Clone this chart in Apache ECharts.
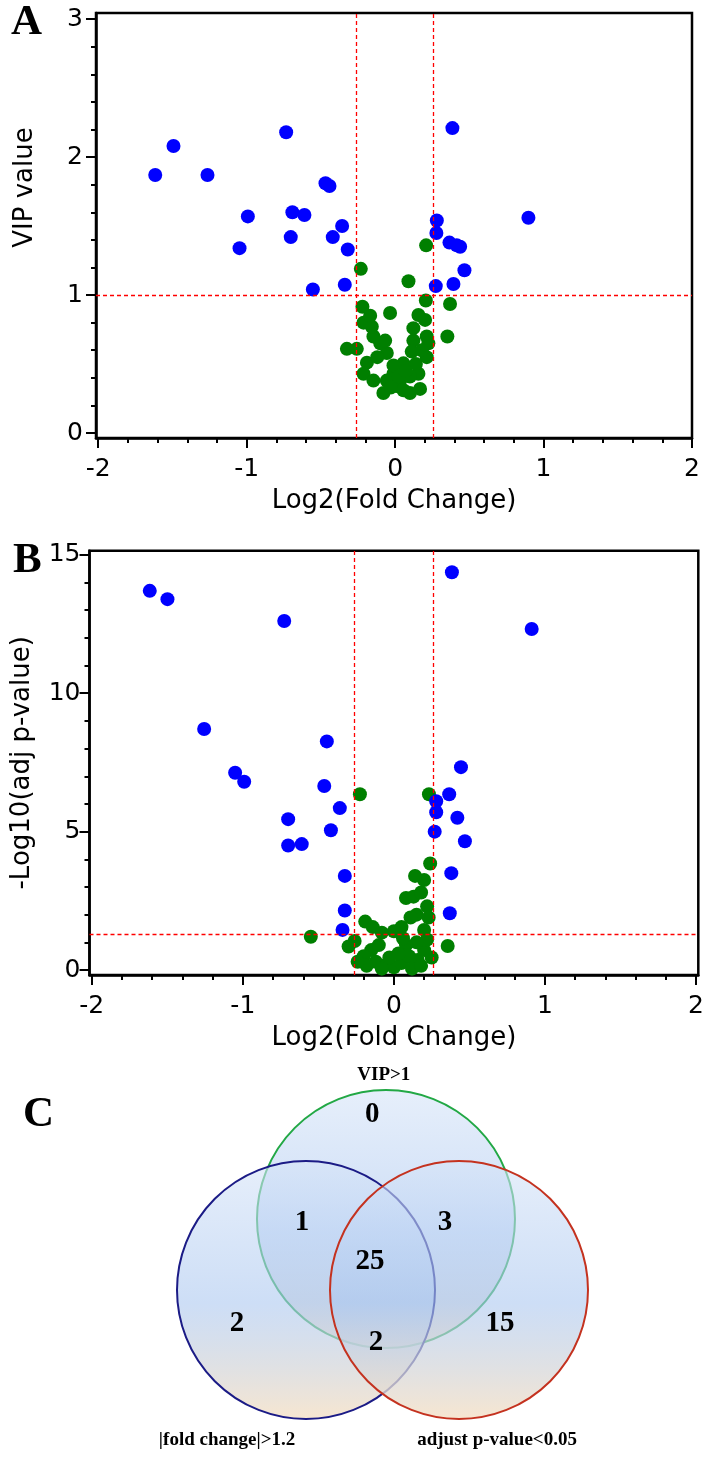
<!DOCTYPE html>
<html><head><meta charset="utf-8">
<script src="https://cdn.jsdelivr.net/npm/echarts@6/dist/echarts.min.js"></script>
<style>html,body{margin:0;padding:0;background:#fff}#c{width:708px;height:1480px}</style>
</head><body><div id="c"></div>
<script>
// ---------------- DATA ----------------
const aBlue = [[-1.616,1.87],[-1.493,2.08],[-1.264,1.87],[-1.048,1.34],[-0.992,1.57],[-0.734,2.18],[-0.703,1.42],[-0.692,1.60],[-0.611,1.58],[-0.554,1.04],[-0.469,1.81],[-0.442,1.79],[-0.420,1.42],[-0.357,1.50],[-0.339,1.075],[-0.319,1.33],[0.274,1.065],[0.278,1.45],[0.281,1.54],[0.366,1.38],[0.386,2.21],[0.393,1.08],[0.415,1.36],[0.438,1.35],[0.467,1.18],[0.898,1.56]];
const aGreen = [[-0.231,1.19],[0.09,1.10],[0.209,1.36],[0.207,0.96],[0.37,0.935],[0.352,0.70],[-0.22,0.915],[-0.034,0.87],[-0.325,0.61],[-0.258,0.61],[0.157,0.855],[0.202,0.82],[0.123,0.76],[0.213,0.70],[0.224,0.65],[0.123,0.67],[0.112,0.59],[0.213,0.55],[0.157,0.43],[0.168,0.32],[0.10,0.29],[-0.079,0.29],[0.034,0.38],[-0.011,0.43],[0.056,0.505],[-0.056,0.58],[-0.10,0.65],[-0.067,0.67],[-0.146,0.70],[-0.157,0.77],[-0.213,0.80],[-0.168,0.85],[-0.19,0.51],[-0.213,0.43],[-0.146,0.38],[-0.056,0.38],[0.011,0.34],[0.056,0.31],[-0.011,0.49],[0.10,0.41],[0.023,0.41],[0.18,0.60],[0.14,0.50],[-0.12,0.55],[0.07,0.45],[-0.03,0.33]];
const bBlue = [[-1.616,13.70],[-1.499,13.40],[-1.256,8.71],[-1.051,7.13],[-0.991,6.80],[-0.726,12.61],[-0.70,5.45],[-0.70,4.50],[-0.61,4.55],[-0.461,6.65],[-0.444,8.26],[-0.417,5.05],[-0.358,5.85],[-0.325,3.40],[-0.325,2.15],[-0.34,1.45],[0.384,14.37],[0.912,12.32],[0.28,6.10],[0.28,5.70],[0.27,5.00],[0.366,6.35],[0.42,5.50],[0.444,7.33],[0.47,4.65],[0.38,3.50],[0.37,2.05]];
const bGreen = [[-0.225,6.35],[0.232,6.35],[0.24,3.85],[0.2,3.25],[0.14,3.4],[0.08,2.6],[0.13,2.65],[0.18,2.8],[0.22,2.3],[0.23,1.9],[0.15,2.0],[0.11,1.9],[0.05,1.55],[-0.19,1.75],[-0.14,1.55],[0.2,1.45],[0.0,1.4],[-0.08,1.35],[-0.55,1.2],[-0.26,1.05],[-0.30,0.85],[-0.15,0.72],[-0.2,0.5],[-0.12,0.3],[-0.05,0.2],[0.0,0.1],[0.05,0.25],[0.1,0.5],[0.157,0.36],[0.2,0.72],[0.356,0.87],[0.22,1.1],[0.15,1.0],[0.08,0.9],[0.03,0.6],[-0.03,0.45],[-0.08,0.05],[0.12,0.05],[-0.18,0.15],[0.18,0.15],[-0.1,0.9],[0.06,1.15],[-0.24,0.3],[0.25,0.45]];
const xTicks = [-2,-1,0,1,2];
const vipTicks = [0,1,2,3];
const pTicks = [0,5,10,15];
const fcThresholds = [-0.263, 0.263];
const vipThreshold = 1;
const pThreshold = 1.301;
const vennSets = ['VIP>1','|fold change|>1.2','adjust p-value<0.05'];
const vennRegions = ['VIP only','VIP & FC','VIP & P','all three','FC only','FC & P','P only'];
const vennCounts = [0,1,3,25,2,2,15];

// ---------------- LAYOUT ----------------
const SANS = '"DejaVu Sans", "Open Sans", sans-serif';
const SERIF = '"Liberation Serif", "DejaVu Serif", serif';
function minors(lo, hi, step, majors){
  const out=[]; for(let v=lo; v<=hi+1e-9; v+=step){ const r=Math.round(v*1000)/1000; if(!majors.some(m=>Math.abs(m-r)<1e-6)) out.push(r);} return out;
}
const vennCircles = [ {c:[0.027,0.55], stroke:'#22a845'}, {c:[-0.593,0], stroke:'#1b1b86'}, {c:[0.593,0], stroke:'#c4321f'} ];
const vennCountPos = [[-0.08,1.36],[-0.624,0.52],[0.484,0.52],[-0.097,0.217],[-1.128,-0.256],[-0.05,-0.41],[0.91,-0.256]];
const vennLabelPos = [[0.01,1.667],[-1.205,-1.163],[0.888,-1.163]];

function axPair(gi, min, max, majors, minorList, isX, name, nameGap, labelMargin, namePad){
  const common = {gridIndex:gi, type:'value', min:min, max:max, splitLine:{show:false}, position: isX?'bottom':'left'};
  const major = Object.assign({}, common, {
    axisLine:{show:true, onZero:false, lineStyle:{color:'#000', width:2.5}},
    axisTick:{show:true, customValues:majors, length:10, lineStyle:{color:'#000', width:2}},
    axisLabel:{show:true, customValues:majors, margin:labelMargin, fontSize:25, fontFamily:SANS, color:'#000'},
    name:name, nameLocation:'middle', nameGap:nameGap,
    nameTextStyle:{fontSize:26, fontFamily:SANS, color:'#000', padding:namePad || 0}
  });
  const minor = Object.assign({}, common, {
    axisLine:{show:false, onZero:false},
    axisTick:{show:true, customValues:minorList, length:5, lineStyle:{color:'#000', width:2}},
    axisLabel:{show:false}
  });
  return [major, minor];
}

const xA = axPair(0, -2.015, 2, xTicks, minors(-2,2,0.2,xTicks), true, 'Log2(Fold Change)', 50, 19);
const yA = axPair(0, -0.036, 3.044, vipTicks, minors(0,3,0.2,vipTicks), false, 'VIP value', 58, 13, [0,0,0,76]);
const xB = axPair(1, -2.015, 2.015, xTicks, minors(-2,2,0.2,xTicks), true, 'Log2(Fold Change)', 50, 19);
const yB = axPair(1, -0.18, 15.15, pTicks, minors(0,15,1,pTicks), false, '-Log10(adj p-value)', 54, 9);

const dotStyle = (c)=>({color:c, opacity:1});
function refLines(xi, yi, yval){
  return {type:'scatter', xAxisIndex:xi, yAxisIndex:yi, data:[], z:1, silent:true,
    markLine:{silent:true, symbol:'none', animation:false, label:{show:false},
      lineStyle:{color:'#ff0000', type:[4,3], width:1.3},
      data:[{xAxis:fcThresholds[0]},{xAxis:fcThresholds[1]},{yAxis:yval}]}};
}

const option = {
  animation:false,
  backgroundColor:'#fff',
  title:[
    {text:'A', left:6, top:-4, textStyle:{fontFamily:SERIF, fontWeight:'bold', fontSize:43, color:'#000'}},
    {text:'B', left:8, top:534, textStyle:{fontFamily:SERIF, fontWeight:'bold', fontSize:43, color:'#000'}},
    {text:'C', left:18, top:1088, textStyle:{fontFamily:SERIF, fontWeight:'bold', fontSize:43, color:'#000'}}
  ],
  grid:[
    {left:96, right:16, top:13, height:425, show:true, borderColor:'#000', borderWidth:2.5, backgroundColor:'transparent'},
    {left:89.5, right:9.7, top:550.7, height:424.3, show:true, borderColor:'#000', borderWidth:2.5, backgroundColor:'transparent'},
    {left:60, width:645, top:1057.8, height:412.8, show:false}
  ],
  xAxis:[xA[0], xA[1], xB[0], xB[1], {gridIndex:2, type:'value', min:-2.5, max:2.5, show:false}],
  yAxis:[yA[0], yA[1], yB[0], yB[1], {gridIndex:2, type:'value', min:-1.4, max:1.8, show:false}],
  series:[
    refLines(0,0,vipThreshold),
    {type:'scatter', xAxisIndex:0, yAxisIndex:0, data:aGreen, symbolSize:14, itemStyle:dotStyle('#007f00'), z:2},
    {type:'scatter', xAxisIndex:0, yAxisIndex:0, data:aBlue, symbolSize:14, itemStyle:dotStyle('#0000ff'), z:3},
    refLines(2,2,pThreshold),
    {type:'scatter', xAxisIndex:2, yAxisIndex:2, data:bGreen, symbolSize:14, itemStyle:dotStyle('#007f00'), z:2},
    {type:'scatter', xAxisIndex:2, yAxisIndex:2, data:bBlue, symbolSize:14, itemStyle:dotStyle('#0000ff'), z:3},
    {type:'custom', xAxisIndex:4, yAxisIndex:4, silent:true, z:2,
     data: vennSets.map((s,i)=>[vennCircles[i].c[0], vennCircles[i].c[1], 1]),
     renderItem:(params, api)=>{
       const i = params.dataIndex;
       const p = api.coord([api.value(0), api.value(1)]);
       const r = api.size([api.value(2), 0])[0];
       return {type:'circle', shape:{cx:p[0], cy:p[1], r:r},
         style:{
           fill:new echarts.graphic.LinearGradient(0,0,0,1,[
             {offset:0, color:'rgba(214,228,248,0.6)'},
             {offset:0.55, color:'rgba(172,200,240,0.6)'},
             {offset:1, color:'rgba(246,226,200,0.85)'}]),
           stroke:vennCircles[i].stroke, lineWidth:2}};
     }},
    {type:'custom', xAxisIndex:4, yAxisIndex:4, silent:true, z:5,
     data: vennCounts.map((c,i)=>[vennCountPos[i][0], vennCountPos[i][1], c]),
     renderItem:(params, api)=>{
       const p = api.coord([api.value(0), api.value(1)]);
       return {type:'text', x:p[0], y:p[1], style:{text:String(api.value(2)), fontFamily:SERIF, fontWeight:'bold', fontSize:29, fill:'#000', align:'center', verticalAlign:'middle'}};
     }},
    {type:'custom', xAxisIndex:4, yAxisIndex:4, silent:true, z:5,
     data: vennSets.map((s,i)=>[vennLabelPos[i][0], vennLabelPos[i][1], i]),
     renderItem:(params, api)=>{
       const p = api.coord([api.value(0), api.value(1)]);
       return {type:'text', x:p[0], y:p[1], style:{text:vennSets[api.value(2)], fontFamily:SERIF, fontWeight:'bold', fontSize:19, fill:'#000', align:'center', verticalAlign:'middle'}};
     }}
  ]
};
const chart = echarts.init(document.getElementById('c'), null, {renderer:'canvas'});
chart.setOption(option);
</script>
</body></html>
